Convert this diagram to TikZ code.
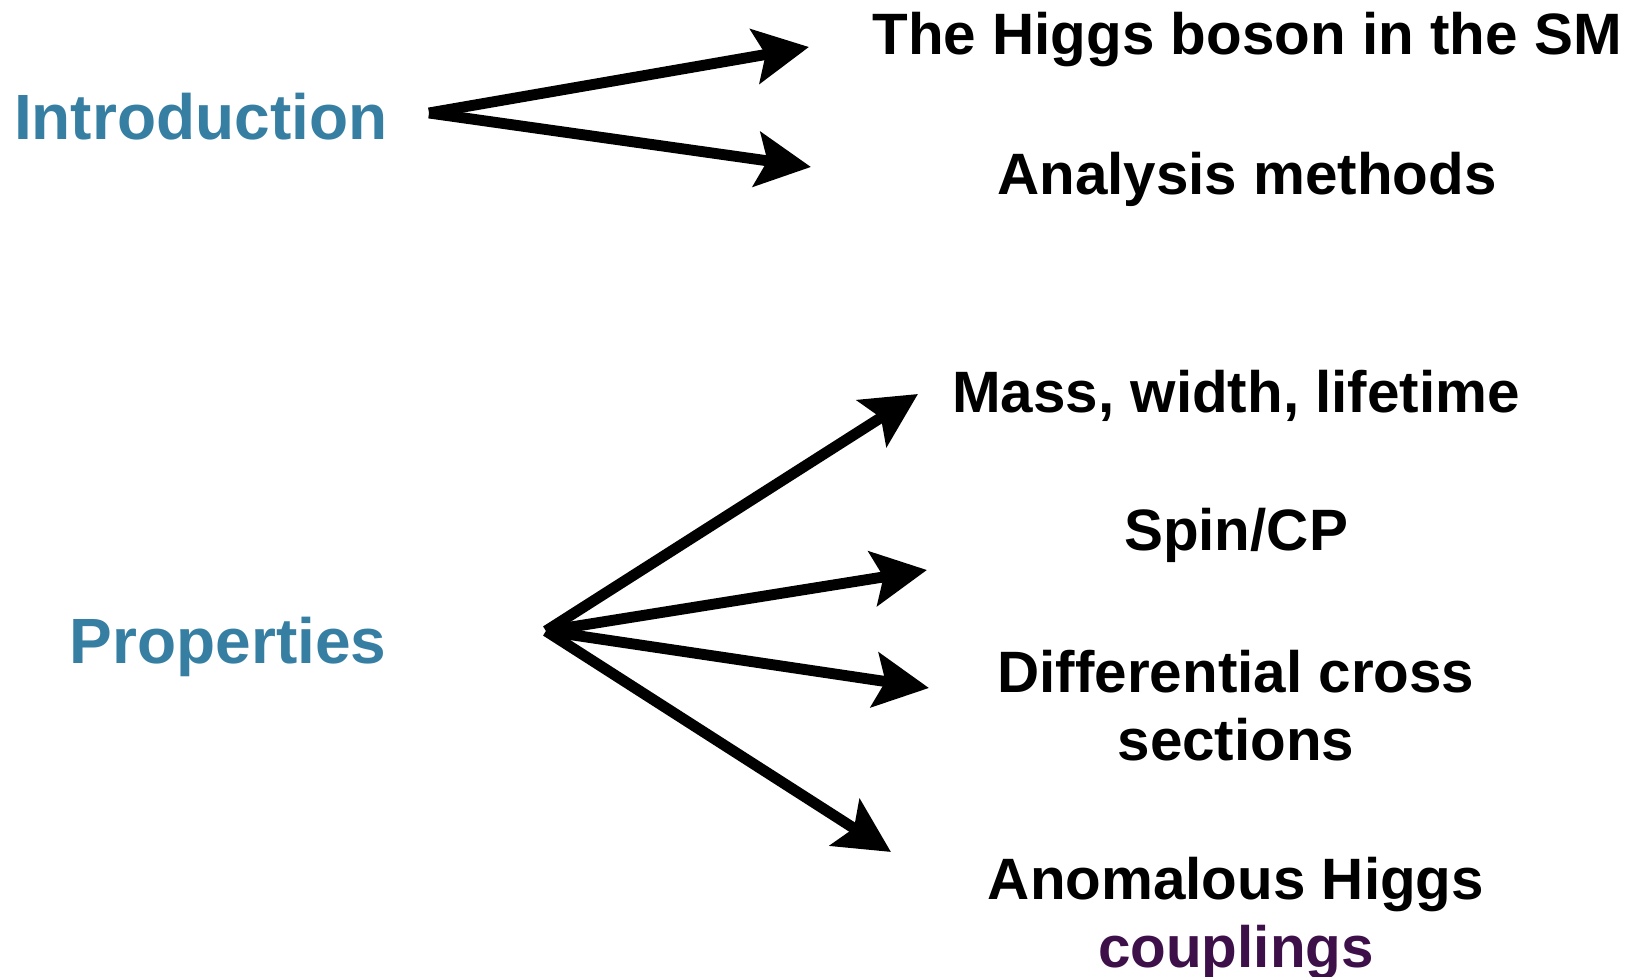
\documentclass[tikz,border=0pt]{standalone}
\usepackage{fontspec}
\setmainfont{Liberation Sans}
\usetikzlibrary{arrows.meta}
\definecolor{topicblue}{RGB}{54,127,163}
\definecolor{couplpurple}{RGB}{62,16,74}

\begin{document}
\begin{tikzpicture}[x=0.01cm,y=-0.01cm,
topic/.style={font=\bfseries\fontsize{18.2}{21}\selectfont,text=topicblue,anchor=base east,inner sep=0pt},
item/.style={font=\bfseries\fontsize{16.6}{19.6}\selectfont,anchor=base,align=center,inner sep=0pt},
arr/.style={line width=3.1pt,-{Stealth[length=15.5pt,width=15.5pt,inset=3pt]}}]

\useasboundingbox (0,0) rectangle (1640,977);

\node[topic] (intro) at (388,140) {Introduction};
\node[topic] (prop) at (387,664) {Properties};

\node[item] (sm) at (1247,55) {The Higgs boson in the SM};
\node[item] (ana) at (1247,195) {Analysis methods};
\node[item] (mass) at (1236,413) {Mass, width, lifetime};
\node[item] (spin) at (1236,551) {Spin/CP};
\node[item] (diff) at (1236,761) {Differential cross\\sections};
\node[item] (anom) at (1236,968) {Anomalous Higgs\\\textcolor{couplpurple}{couplings}};

\coordinate (io) at (429,113);
\coordinate (po) at (546,631);

\coordinate (tsm) at (809,47);
\coordinate (tana) at (811,167);
\coordinate (tmass) at (918,394);
\coordinate (tspin) at (927,570);
\coordinate (tdiff) at (929,688);
\coordinate (tanom) at (891,852);

\draw[arr] (io) -- (tsm);
\draw[arr] (io) -- (tana);
\draw[arr] (po) -- (tmass);
\draw[arr] (po) -- (tspin);
\draw[arr] (po) -- (tdiff);
\draw[arr] (po) -- (tanom);
\end{tikzpicture}
\end{document}
